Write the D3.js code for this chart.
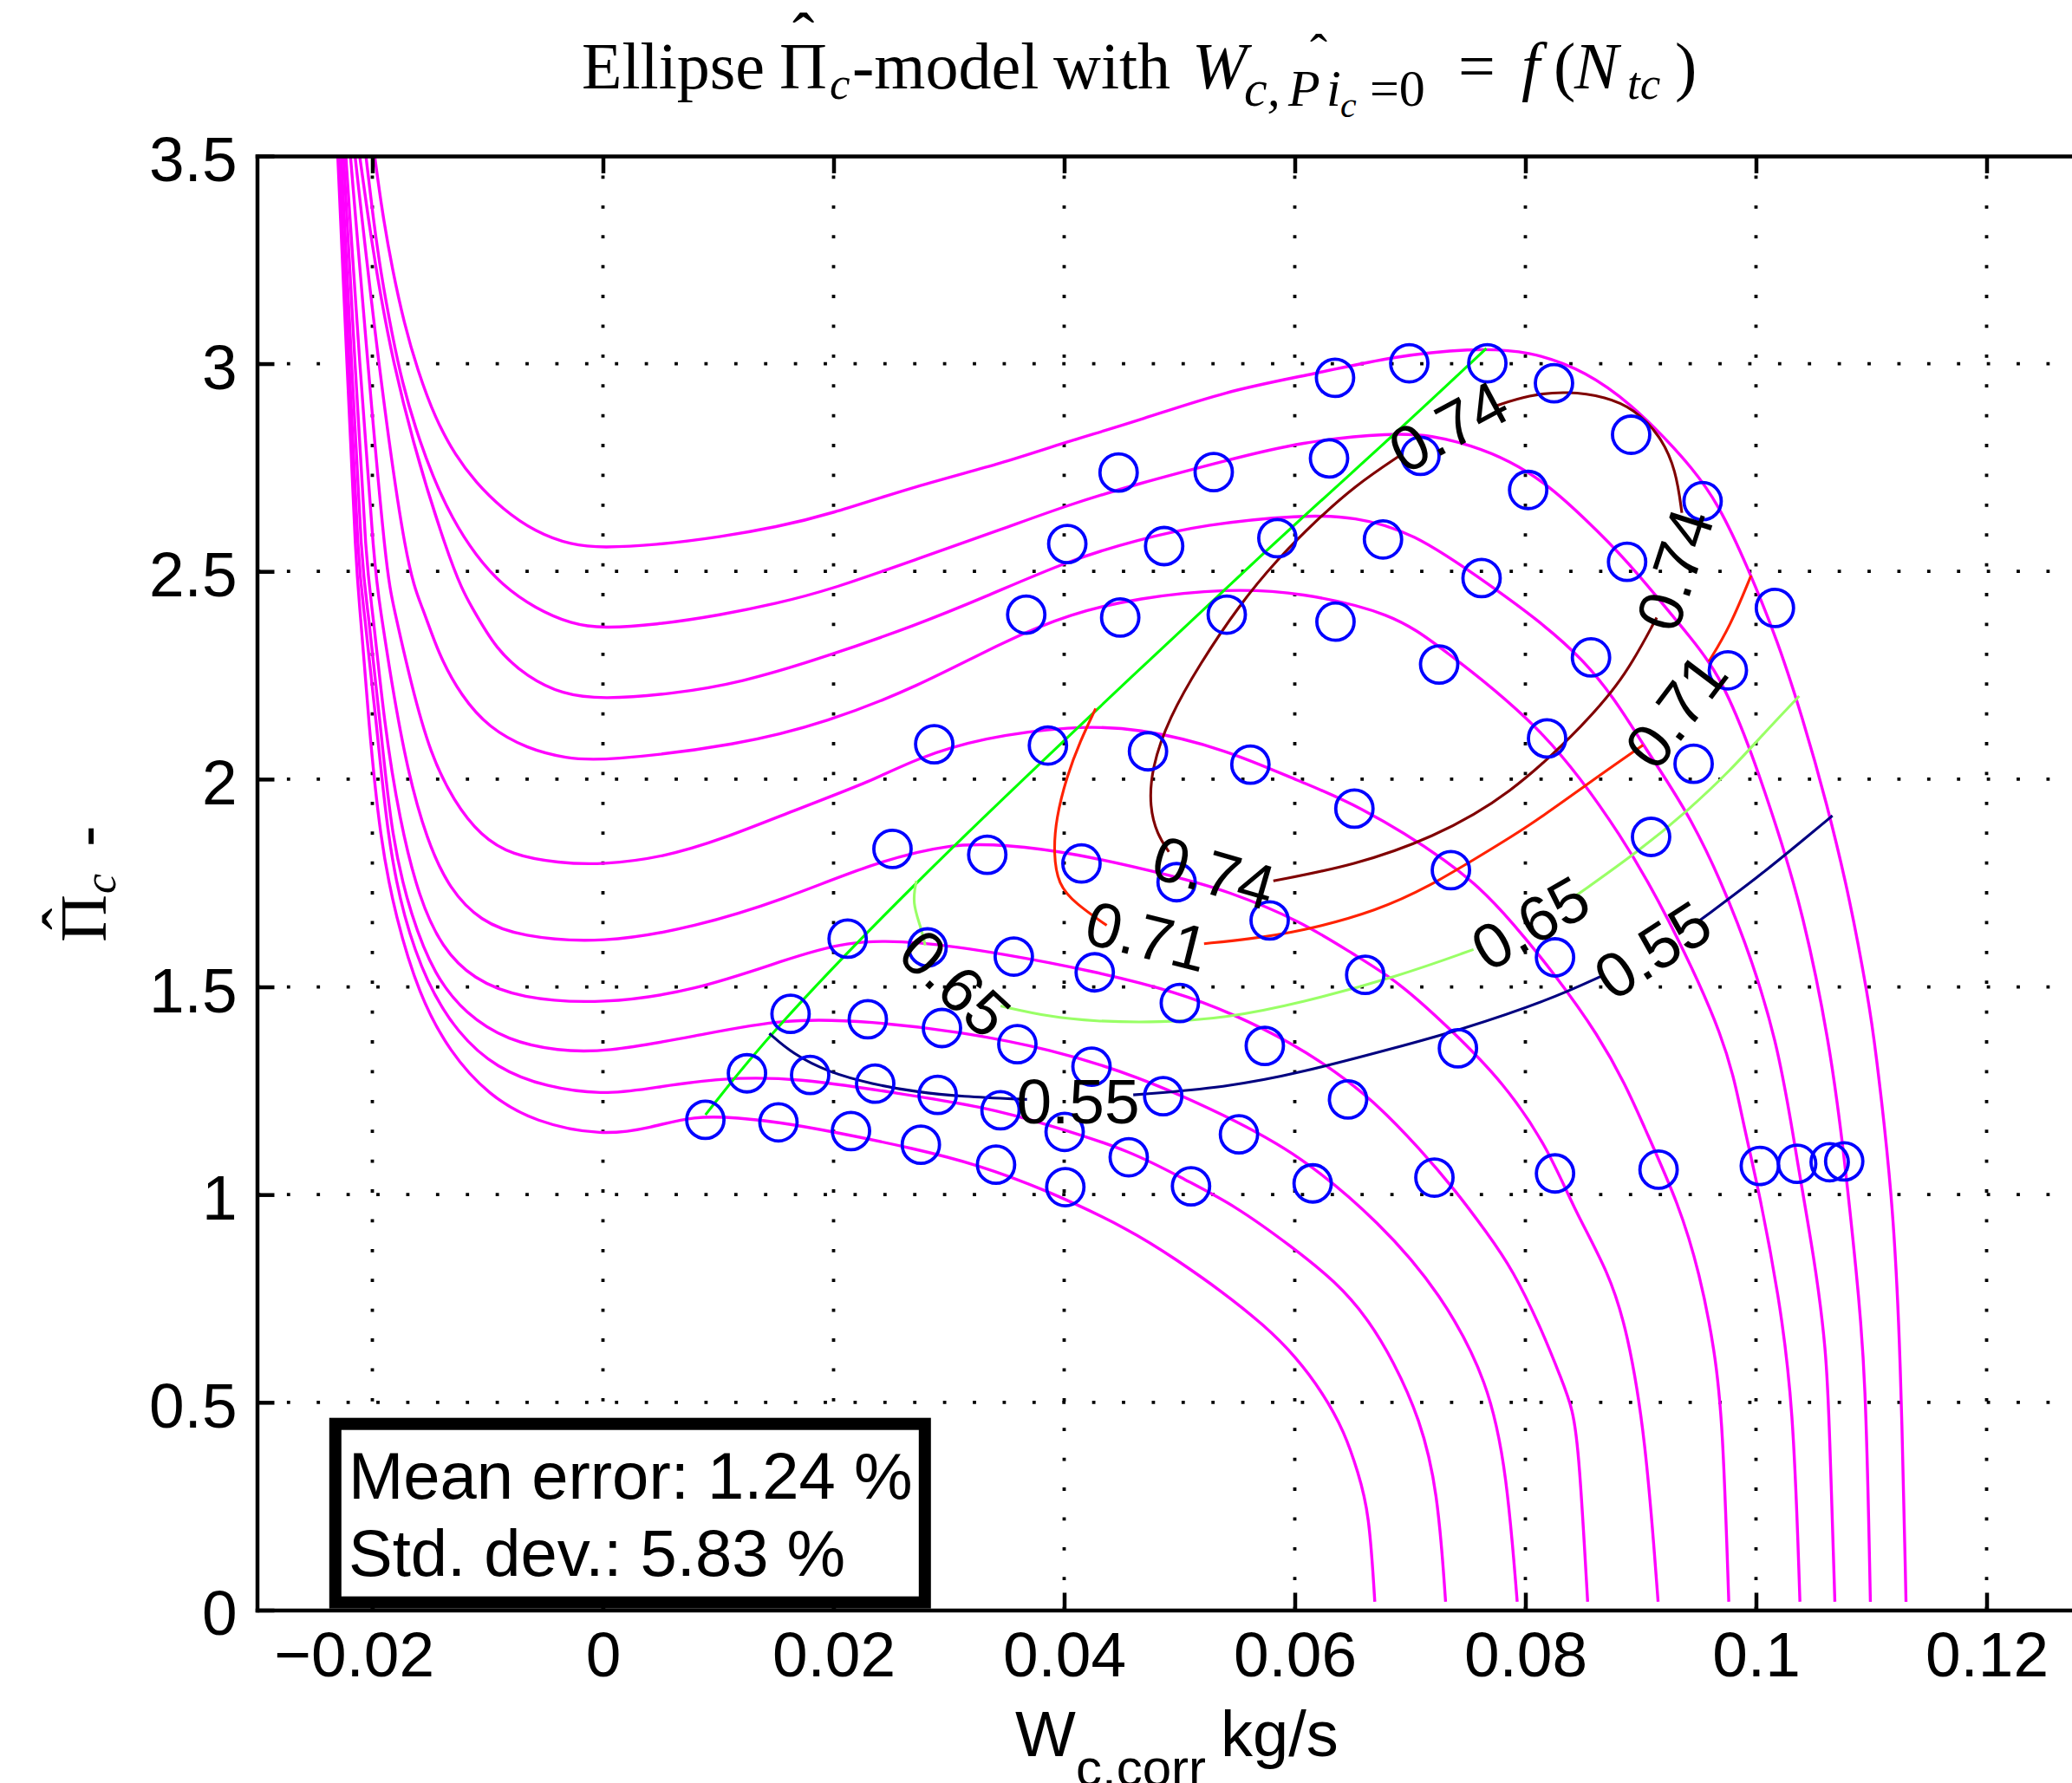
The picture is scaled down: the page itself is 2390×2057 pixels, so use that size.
<!DOCTYPE html>
<html>
<head>
<meta charset="utf-8">
<title>Ellipse Pi_c-model</title>
<script src="https://cdn.jsdelivr.net/npm/d3@7/dist/d3.min.js"></script>
<style>
  body { margin: 0; background: #fff; }
  svg { display: block; }
</style>
</head>
<body>
<svg id="chart" width="2390" height="2057"></svg>
<script>
// ---- data ----
var xTicks = [-0.02, 0, 0.02, 0.04, 0.06, 0.08, 0.1, 0.12];
var xTickLabels = ["\u22120.02", "0", "0.02", "0.04", "0.06", "0.08", "0.1", "0.12"];
var yTicks = [0, 0.5, 1, 1.5, 2, 2.5, 3, 3.5];
var yTickLabels = ["0", "0.5", "1", "1.5", "2", "2.5", "3", "3.5"];

// model speed lines (W_c,corr [kg/s], Pi_c [-]), top to bottom
var speedLine1 = [[-0.0198,3.5],[-0.01913,3.362],[-0.01826,3.226],[-0.01725,3.098],[-0.0161,2.986],[-0.01452,2.866],[-0.01279,2.779],[-0.01106,2.715],[-0.00876,2.651],[-0.00588,2.595],[-0.00272,2.563],[0,2.557],[0.00448,2.563],[0.01024,2.583],[0.01507,2.607],[0.01951,2.636],[0.02718,2.706],[0.03486,2.762],[0.03985,2.809],[0.04637,2.862],[0.05405,2.935],[0.06184,2.976],[0.06855,3.018],[0.07527,3.037],[0.08031,3.032],[0.08535,2.981],[0.08937,2.897],[0.09206,2.822],[0.09434,2.753],[0.0967,2.665],[0.09931,2.509],[0.10193,2.329],[0.10402,2.149],[0.10611,1.946],[0.1082,1.706],[0.10976,1.466],[0.11029,1.37],[0.11186,0.997],[0.11254,0.624],[0.11301,0.02]];
var speedLine2 = [[-0.02056,3.5],[-0.01998,3.362],[-0.01927,3.218],[-0.01826,3.066],[-0.0174,2.954],[-0.01625,2.843],[-0.01481,2.731],[-0.01308,2.627],[-0.01106,2.539],[-0.00876,2.467],[-0.00588,2.411],[-0.00272,2.373],[0,2.363],[0.00448,2.371],[0.01024,2.395],[0.01507,2.423],[0.01951,2.454],[0.02718,2.529],[0.03486,2.604],[0.04023,2.659],[0.04637,2.711],[0.05405,2.767],[0.0605,2.812],[0.06855,2.834],[0.07191,2.827],[0.07527,2.804],[0.07863,2.767],[0.08199,2.708],[0.08535,2.622],[0.0887,2.529],[0.09206,2.417],[0.0942,2.345],[0.0967,2.258],[0.09931,2.09],[0.10193,1.874],[0.10402,1.684],[0.10637,1.37],[0.10767,1.09],[0.10872,0.81],[0.10951,0.577],[0.10992,0.02]];
var speedLine3 = [[-0.0211,3.5],[-0.0186,3.0],[-0.0131,2.5],[-0.01136,2.413],[-0.00924,2.311],[-0.00656,2.246],[-0.00354,2.204],[0,2.192],[0.00592,2.205],[0.01184,2.231],[0.01951,2.296],[0.02718,2.371],[0.03294,2.436],[0.04062,2.529],[0.04637,2.576],[0.05213,2.613],[0.0605,2.636],[0.0652,2.632],[0.07024,2.594],[0.07621,2.482],[0.08568,2.291],[0.09038,2.072],[0.09434,1.914],[0.0985,1.66],[0.10193,1.37],[0.1035,1.09],[0.10506,0.848],[0.10611,0.624],[0.10637,0.438],[0.10684,0.02]];
var speedLine4 = [[-0.0215,3.5],[-0.0195,3.0],[-0.017,2.5],[-0.01562,2.413],[-0.01428,2.301],[-0.01227,2.199],[-0.00991,2.124],[-0.00656,2.073],[-0.0032,2.05],[0,2.043],[0.01184,2.082],[0.01951,2.138],[0.02718,2.221],[0.03486,2.333],[0.04062,2.399],[0.04637,2.436],[0.05412,2.459],[0.0605,2.45],[0.06855,2.399],[0.07252,2.32],[0.08189,2.119],[0.0887,1.849],[0.09209,1.683],[0.09748,1.37],[0.09879,1.183],[0.10035,0.997],[0.10193,0.764],[0.10323,0.503],[0.10381,0.02]];
var speedLine5 = [[-0.0219,3.5],[-0.0204,3.0],[-0.0188,2.5],[-0.01814,2.413],[-0.01663,2.227],[-0.01495,2.059],[-0.01294,1.947],[-0.01059,1.863],[-0.00791,1.817],[-0.00387,1.798],[0,1.794],[0.0052,1.812],[0.01023,1.854],[0.01695,1.929],[0.02335,1.996],[0.02718,2.05],[0.03294,2.1],[0.04062,2.128],[0.04637,2.124],[0.05405,2.072],[0.0605,1.993],[0.0652,1.942],[0.07352,1.802],[0.07829,1.683],[0.08703,1.37],[0.09042,1.155],[0.0933,0.978],[0.09513,0.81],[0.09643,0.624],[0.09711,0.456],[0.09764,0.02]];
var speedLine6 = [[-0.0223,3.5],[-0.0211,3.0],[-0.0198,2.5],[-0.01932,2.413],[-0.01831,2.227],[-0.01697,2.022],[-0.01529,1.854],[-0.01328,1.733],[-0.01059,1.658],[-0.00723,1.621],[0,1.604],[0.008,1.644],[0.01568,1.71],[0.02335,1.798],[0.03026,1.846],[0.03486,1.842],[0.04062,1.824],[0.04975,1.765],[0.05405,1.732],[0.0605,1.659],[0.0651,1.578],[0.06894,1.514],[0.07355,1.397],[0.07815,1.269],[0.082,1.11],[0.08414,0.969],[0.08728,0.81],[0.08885,0.671],[0.09042,0.419],[0.09151,0.02]];
var speedLine7 = [[-0.0225,3.5],[-0.0215,3.0],[-0.0205,2.5],[-0.01999,2.413],[-0.01898,2.134],[-0.01764,1.901],[-0.01596,1.714],[-0.01394,1.593],[-0.01126,1.519],[-0.00723,1.472],[0,1.458],[0.008,1.491],[0.01568,1.564],[0.02105,1.611],[0.02718,1.611],[0.03486,1.579],[0.04253,1.538],[0.04975,1.488],[0.05474,1.434],[0.05973,1.365],[0.06357,1.296],[0.06702,1.221],[0.07086,1.11],[0.07393,1.01],[0.07662,0.91],[0.0789,0.82],[0.0815,0.67],[0.08306,0.56],[0.08414,0.484],[0.08467,0.372],[0.0854,0.02]];
var speedLine8 = [[-0.0227,3.5],[-0.0218,3.0],[-0.0209,2.5],[-0.02039,2.413],[-0.01932,2.134],[-0.01831,1.854],[-0.01663,1.668],[-0.01461,1.528],[-0.01193,1.435],[-0.00824,1.37],[-0.00387,1.346],[0,1.342],[0.008,1.381],[0.01568,1.425],[0.02335,1.417],[0.03103,1.392],[0.0387,1.351],[0.04637,1.286],[0.05405,1.19],[0.0605,1.095],[0.06742,0.932],[0.07264,0.764],[0.07683,0.549],[0.0784,0.326],[0.07929,0.02]];
var speedLine9 = [[-0.0229,3.5],[-0.022,3.0],[-0.0212,2.5],[-0.02073,2.413],[-0.01965,2.134],[-0.01865,1.854],[-0.01731,1.668],[-0.01529,1.509],[-0.01261,1.388],[-0.00924,1.304],[-0.00488,1.258],[0,1.241],[0.00351,1.253],[0.01024,1.282],[0.01695,1.281],[0.02527,1.245],[0.03294,1.212],[0.0387,1.168],[0.04591,1.104],[0.05051,1.035],[0.05474,0.975],[0.05973,0.875],[0.06357,0.79],[0.06625,0.705],[0.06855,0.6],[0.07086,0.46],[0.07239,0.29],[0.07308,0.02]];
var speedLine10 = [[-0.023,3.5],[-0.0222,3.0],[-0.0214,2.5],[-0.02107,2.413],[-0.02032,2.134],[-0.01932,1.854],[-0.01798,1.668],[-0.01596,1.481],[-0.01328,1.342],[-0.00991,1.239],[-0.00589,1.174],[0,1.141],[0.00416,1.161],[0.00788,1.19],[0.01184,1.185],[0.01528,1.174],[0.01951,1.154],[0.02718,1.11],[0.03249,1.072],[0.03824,1.014],[0.04591,0.913],[0.04975,0.843],[0.05359,0.769],[0.05743,0.684],[0.06011,0.609],[0.06241,0.524],[0.06433,0.428],[0.06548,0.332],[0.06645,0.236],[0.06694,0.02]];
var speedLines = [speedLine1, speedLine2, speedLine3, speedLine4, speedLine5, speedLine6, speedLine7, speedLine8, speedLine9, speedLine10];

// surge line
var surgeLine = [[0.00889,1.192],[0.01443,1.388],[0.02718,1.755],[0.04169,2.138],[0.05848,2.576],[0.06855,2.827],[0.07662,3.037]];

// measured points
var measuredPoints = [
  [0.06349,2.966],[0.06993,3.001],[0.0767,3.001],[0.08248,2.953],[0.08917,2.829],[0.0709,2.778],[0.04472,2.738],[0.05297,2.739],
  [0.06297,2.772],[0.08024,2.696],[0.09537,2.669],[0.04027,2.566],[0.04867,2.561],[0.05849,2.58],[0.06765,2.577],[0.0762,2.484],
  [0.08882,2.523],[0.10164,2.412],[0.03671,2.396],[0.04486,2.389],[0.0541,2.396],[0.06353,2.379],[0.07252,2.276],[0.08569,2.293],
  [0.09756,2.262],[0.02873,2.084],[0.03859,2.081],[0.04727,2.067],[0.05615,2.035],[0.06517,1.929],[0.08188,2.098],[0.09459,2.037],
  [0.0909,1.861],[0.02511,1.832],[0.03333,1.818],[0.0415,1.797],[0.04975,1.752],[0.05782,1.66],[0.07354,1.781],[0.08257,1.571],
  [0.02122,1.616],[0.02815,1.595],[0.03563,1.573],[0.04265,1.535],[0.05003,1.461],[0.06611,1.529],[0.01627,1.435],[0.02297,1.422],
  [0.0294,1.401],[0.03594,1.362],[0.04237,1.308],[0.0574,1.358],[0.07415,1.352],[0.01249,1.292],[0.01797,1.288],[0.02361,1.267],
  [0.02903,1.24],[0.03448,1.203],[0.04859,1.237],[0.06462,1.229],[0.00888,1.18],[0.01522,1.174],[0.02151,1.153],[0.02757,1.12],
  [0.03409,1.072],[0.04004,1.151],[0.0401,1.018],[0.0456,1.09],[0.051,1.02],[0.05516,1.145],[0.06155,1.027],[0.07211,1.041],
  [0.08257,1.051],[0.09155,1.06],[0.10033,1.069],[0.10357,1.074],[0.10639,1.078],[0.10765,1.08]
];

// efficiency contours, each as line pieces broken at the inline labels
var effLevels = ["0.74", "0.71", "0.65", "0.55"];
var eff074 = [
  [[0.06923,2.781],[0.0652,2.706],[0.06184,2.622],[0.05848,2.529],[0.05513,2.417],[0.05176,2.277],[0.04908,2.147],[0.04757,2.026],[0.0474,1.932],[0.04807,1.867],[0.04908,1.825]],
  [[0.05814,1.755],[0.0652,1.793],[0.07191,1.858],[0.07863,1.96],[0.08535,2.138],[0.0887,2.249],[0.09139,2.389]],
  [[0.09357,2.641],[0.09307,2.743],[0.09173,2.827],[0.08937,2.892],[0.08702,2.92],[0.08366,2.934],[0.08031,2.925],[0.07728,2.897]]
];
var eff071 = [
  [[0.04273,2.17],[0.04138,2.091],[0.04023,2.007],[0.03928,1.904],[0.03908,1.821],[0.03947,1.746],[0.041,1.7],[0.04369,1.648]],
  [[0.05213,1.604],[0.05597,1.615],[0.0605,1.633],[0.06721,1.683],[0.07191,1.746],[0.07527,1.802],[0.08031,1.886],[0.08535,1.988],[0.09021,2.082]],
  [[0.09591,2.283],[0.09775,2.367],[0.09957,2.49]]
];
var eff065 = [
  [[0.02718,1.755],[0.02682,1.703],[0.02757,1.644],[0.02795,1.6]],
  [[0.03448,1.454],[0.0387,1.428],[0.04253,1.417],[0.0483,1.414],[0.05405,1.425],[0.0605,1.461],[0.06894,1.525],[0.0755,1.59]],
  [[0.08441,1.72],[0.0899,1.828],[0.09408,1.924],[0.09775,2.02],[0.10088,2.116],[0.10375,2.2]]
];
var eff055 = [
  [[0.01443,1.388],[0.01644,1.339],[0.01951,1.295],[0.02335,1.266],[0.02718,1.247],[0.03103,1.236],[0.03678,1.229]],
  [[0.04599,1.24],[0.05405,1.258],[0.0605,1.293],[0.06894,1.355],[0.07421,1.395],[0.08205,1.468],[0.08676,1.528]],
  [[0.09513,1.66],[0.10035,1.768],[0.10402,1.852],[0.10663,1.912]]
];
var effContours = [eff074, eff071, eff065, eff055];
// label anchor [W, Pi, text angle]
var effLabels074 = [[0.0733,2.85,-28],[0.0929,2.505,-72],[0.053,1.777,16]];
var effLabels071 = [[0.0472,1.624,14],[0.093,2.165,-53]];
var effLabels065 = [[0.0306,1.51,43],[0.0804,1.655,-30]];
var effLabels055 = [[0.0412,1.227,0],[0.091,1.59,-33]];
var effLabels = [effLabels074, effLabels071, effLabels065, effLabels055];

var statLines = ["Mean error: 1.24 %", "Std. dev.: 5.83 %"];

// ---- drawing ----
var sans = "'Liberation Sans', Arial, Helvetica, sans-serif";
var serif = "'Liberation Serif', 'Times New Roman', serif";
var effColors = ["#800000", "#ff2200", "#99ff66", "#000080"];

var pL = 296.5, pR = 2424.5, pT = 179.9, pB = 1857.5;
var x = d3.scaleLinear().domain([-0.03, 0.13]).range([pL, pR]);
var y = d3.scaleLinear().domain([0, 3.5]).range([pB, pT]);

var svg = d3.select("#chart");
svg.append("rect").attr("width", 2390).attr("height", 2057).attr("fill", "#fff");

svg.append("clipPath").attr("id", "plotclip")
  .append("rect").attr("x", pL).attr("y", pT).attr("width", pR - pL).attr("height", pB - pT);

// dotted grid
var grid = svg.append("g").attr("stroke", "#000").attr("stroke-width", 3.8).attr("stroke-dasharray", "3.8 30.6");
grid.selectAll(".gx").data(xTicks).enter().append("line").attr("class", "gx")
  .attr("x1", function(d) { return x(d); }).attr("x2", function(d) { return x(d); })
  .attr("y1", pB).attr("y2", pT);
grid.selectAll(".gy").data(yTicks.filter(function(d) { return d > 0 && d < 3.5; })).enter().append("line").attr("class", "gy")
  .attr("x1", pL).attr("x2", pR)
  .attr("y1", function(d) { return y(d); }).attr("y2", function(d) { return y(d); });

var line = d3.line()
  .x(function(d) { return x(d[0]); })
  .y(function(d) { return y(d[1]); })
  .curve(d3.curveBasis);

var plot = svg.append("g").attr("clip-path", "url(#plotclip)");

plot.selectAll(".speed").data(speedLines).enter().append("path").attr("class", "speed")
  .attr("d", line).attr("fill", "none").attr("stroke", "#ff00ff").attr("stroke-width", 3.4);

plot.append("path").datum(surgeLine).attr("d", line)
  .attr("fill", "none").attr("stroke", "#00ff00").attr("stroke-width", 3.1);

effContours.forEach(function(pieces, i) {
  plot.selectAll(".eff" + i).data(pieces).enter().append("path").attr("class", "eff" + i)
    .attr("d", line).attr("fill", "none").attr("stroke", effColors[i]).attr("stroke-width", 3.1);
});

plot.selectAll(".meas").data(measuredPoints).enter().append("circle").attr("class", "meas")
  .attr("cx", function(d) { return x(d[0]); }).attr("cy", function(d) { return y(d[1]); })
  .attr("r", 21.5).attr("fill", "none").attr("stroke", "#0000ff").attr("stroke-width", 3.8);

effLabels.forEach(function(labs, i) {
  plot.selectAll(".lab" + i).data(labs).enter().append("text").attr("class", "lab" + i)
    .attr("transform", function(d) { return "translate(" + x(d[0]) + "," + y(d[1]) + ") rotate(" + d[2] + ")"; })
    .attr("text-anchor", "middle").attr("dy", "0.36em")
    .attr("font-family", sans).attr("font-size", 73).attr("fill", "#000")
    .text(effLevels[i]);
});

// axes with inward ticks
var xAxisB = svg.append("g").attr("transform", "translate(0," + pB + ")")
  .call(d3.axisBottom(x).tickValues(xTicks).tickSize(-20).tickSizeOuter(0).tickPadding(25)
    .tickFormat(function(d, i) { return xTickLabels[i]; }));
var xAxisT = svg.append("g").attr("transform", "translate(0," + pT + ")")
  .call(d3.axisTop(x).tickValues(xTicks).tickSize(-20).tickSizeOuter(0).tickFormat(""));
var yAxisL = svg.append("g").attr("transform", "translate(" + pL + ",0)")
  .call(d3.axisLeft(y).tickValues(yTicks).tickSize(-20).tickSizeOuter(0).tickPadding(23)
    .tickFormat(function(d, i) { return yTickLabels[i]; }));
var yAxisR = svg.append("g").attr("transform", "translate(" + pR + ",0)")
  .call(d3.axisRight(y).tickValues(yTicks).tickSize(-20).tickSizeOuter(0).tickFormat(""));

[xAxisB, xAxisT, yAxisL, yAxisR].forEach(function(g) {
  g.attr("font-family", sans).attr("font-size", 73);
  g.select(".domain").attr("stroke-width", 4.5).attr("stroke-linecap", "square");
  g.selectAll(".tick line").attr("stroke-width", 4.5);
  g.selectAll("text").attr("fill", "#000");
});
yAxisL.selectAll("text").attr("dy", "0.39em");
// keep the digits of a negative label centred on its tick, the minus hanging left
xAxisB.selectAll("text").each(function(d) {
  if (d < 0) {
    var full = this.textContent;
    this.textContent = full.slice(1);
    var w = this.getComputedTextLength();
    this.textContent = full;
    d3.select(this).attr("text-anchor", "end").attr("x", w / 2);
  }
});

// statistics box
svg.append("rect").attr("x", 386.8).attr("y", 1642.7).attr("width", 680).attr("height", 206)
  .attr("fill", "#fff").attr("stroke", "#000").attr("stroke-width", 14);
svg.selectAll(".stat").data(statLines).enter().append("text").attr("class", "stat")
  .attr("x", 402).attr("y", function(d, i) { return 1729.4 + i * 88.2; })
  .attr("font-family", sans).attr("font-size", 76).attr("fill", "#000")
  .text(function(d) { return d; });

// title  (Ellipse Pi^_c-model with W_{c,P^i_c=0} = f(N_tc))
var title = svg.append("text").attr("font-family", serif).attr("font-size", 76).attr("fill", "#000");
var tParts = [
  ["Ellipse", 671, 101.7, 76, "normal"],
  ["\u03A0", 899, 101.7, 76, "normal"],
  ["\u02C6", 914, 68, 76, "normal"],
  ["c", 957, 114, 53, "italic"],
  ["-model", 983, 101.7, 76, "normal"],
  ["with", 1215, 101.7, 76, "normal"],
  ["W", 1375, 101.7, 76, "italic"],
  ["c,", 1435, 122, 60, "italic"],
  ["P", 1486, 122, 60, "italic"],
  ["\u02C6", 1511, 80, 60, "normal"],
  ["i", 1530, 122, 60, "italic"],
  ["c", 1546, 135, 42, "italic"],
  ["=0", 1580, 122, 60, "normal"],
  ["=", 1682, 101.7, 76, "normal"],
  ["f", 1755, 101.7, 76, "italic"],
  ["(", 1792, 101.7, 76, "normal"],
  ["N", 1816, 101.7, 76, "italic"],
  ["tc", 1877, 114, 53, "italic"],
  [")", 1932, 101.7, 76, "normal"]
];
tParts.forEach(function(p) {
  title.append("tspan").attr("x", p[1]).attr("y", p[2]).attr("font-size", p[3]).attr("font-style", p[4]).text(p[0]);
});

// y label
var ylab = svg.append("text").attr("transform", "translate(122,1087) rotate(-90)").attr("fill", "#000");
ylab.append("tspan").attr("x", 0).attr("y", 0).attr("font-family", serif).attr("font-size", 76).text("\u03A0");
ylab.append("tspan").attr("x", 14).attr("y", -20).attr("font-family", serif).attr("font-size", 76).text("\u02C6");
ylab.append("tspan").attr("x", 56).attr("y", 11).attr("font-family", serif).attr("font-size", 52).attr("font-style", "italic").text("c");
ylab.append("tspan").attr("x", 110).attr("y", 3).attr("font-family", sans).attr("font-size", 74).text("-");

// x label
var xlab = svg.append("text").attr("font-family", sans).attr("fill", "#000");
xlab.append("tspan").attr("x", 1171).attr("y", 2025.6).attr("font-size", 74).text("W");
xlab.append("tspan").attr("x", 1241).attr("y", 2060).attr("font-size", 60).text("c,corr");
xlab.append("tspan").attr("x", 1408).attr("y", 2025.6).attr("font-size", 74).text("kg/s");
</script>
</body>
</html>
